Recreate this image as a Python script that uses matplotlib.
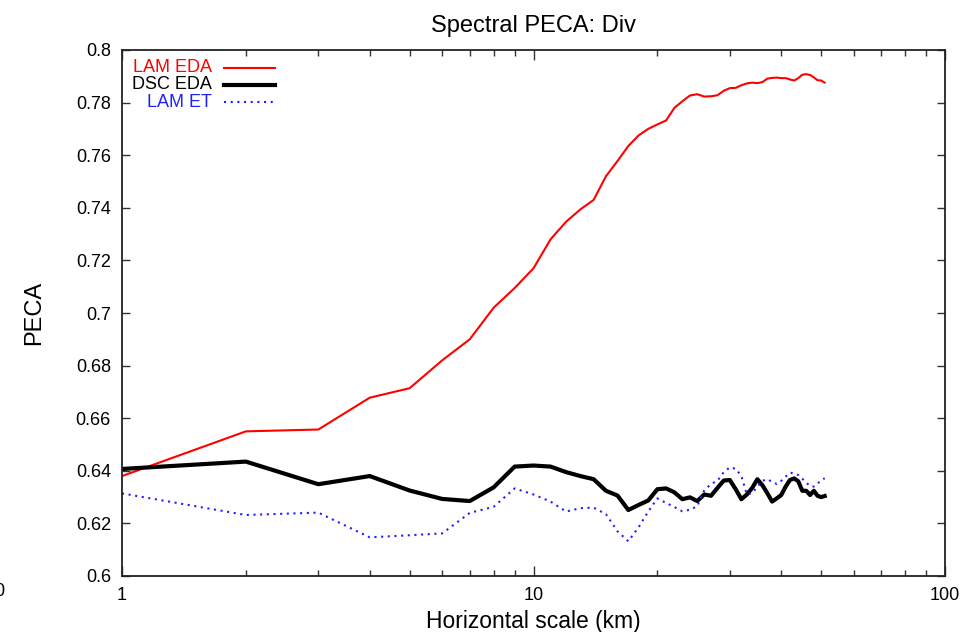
import matplotlib
matplotlib.use("Agg")
import matplotlib.pyplot as plt
from matplotlib.ticker import FuncFormatter, FixedLocator, LogLocator, NullFormatter

plt.rcParams['font.family'] = ['Liberation Sans', 'DejaVu Sans']

# horizontal scale (km)
scales = list(range(1, 52))

lam_eda = [0.638, 0.655, 0.6557, 0.6678, 0.6714, 0.682, 0.690, 0.702, 0.7095, 0.717,
           0.728, 0.7347, 0.7394, 0.743, 0.752, 0.7578, 0.7635, 0.7675, 0.770, 0.7717,
           0.7732, 0.778, 0.7805, 0.7827, 0.7832, 0.7823, 0.7824, 0.7828, 0.7845, 0.7855,
           0.7856, 0.7866, 0.7873, 0.7876, 0.7874, 0.7878, 0.7891, 0.7894, 0.7895, 0.7893,
           0.7893, 0.7888, 0.7884, 0.7893, 0.7906, 0.7908, 0.7905, 0.7896, 0.7885, 0.7884,
           0.7876]

dsc_eda = [0.6407, 0.6435, 0.6349, 0.6380, 0.6325, 0.6293, 0.6285, 0.6337, 0.6416, 0.6420,
           0.6416, 0.6395, 0.6380, 0.6368, 0.6324, 0.6306, 0.6251, 0.6270, 0.6287, 0.6330,
           0.6333, 0.6318, 0.6292, 0.6299, 0.6285, 0.6310, 0.6305, 0.6335, 0.6363, 0.6365,
           0.6330, 0.6292, 0.6310, 0.6335, 0.6368, 0.6345, 0.6315, 0.6283, 0.6295, 0.6308,
           0.6340, 0.6365, 0.6371, 0.6360, 0.6324, 0.6324, 0.6308, 0.6324, 0.6305, 0.6300,
           0.6304]

lam_et = [0.6314, 0.6232, 0.6241, 0.6147, 0.6155, 0.6162, 0.6240, 0.6263, 0.6333, 0.6310,
          0.6283, 0.6245, 0.6258, 0.6260, 0.6235, 0.6170, 0.6132, 0.6185, 0.6245, 0.6295,
          0.6278, 0.6262, 0.6246, 0.6252, 0.6265, 0.6325, 0.6350, 0.6362, 0.6395, 0.6413,
          0.6408, 0.6380, 0.6310, 0.6315, 0.6340, 0.6362, 0.6368, 0.6358, 0.6350, 0.6362,
          0.6378, 0.6393, 0.6390, 0.6384, 0.6370, 0.6355, 0.6342, 0.6340, 0.6352, 0.6362,
          0.6372]

yticks = [0.6, 0.62, 0.64, 0.66, 0.68, 0.7, 0.72, 0.74, 0.76, 0.78, 0.8]
xticks = [1, 10, 100]

fig = plt.figure(figsize=(9.63, 6.32), dpi=100)
ax = fig.add_axes([122 / 963, 1 - 576 / 632, 823 / 963, 526 / 632])

series = [
    ("LAM EDA", lam_eda, dict(color="#ff0000", lw=1.5, ls="-")),
    ("DSC EDA", dsc_eda, dict(color="black", lw=3.0, ls="-")),
    ("LAM ET", lam_et, dict(color="#2020ff", lw=1.5, ls=(0, (1, 2.2)))),
]

for label, vals, st in series:
    ax.plot(scales, vals, **st)

ax.set_xscale("log")
ax.set_xlim(1, 100)
ax.set_ylim(0.6, 0.8)

ax.xaxis.set_major_locator(FixedLocator(xticks))
ax.xaxis.set_minor_locator(LogLocator(base=10, subs=range(2, 10)))
ax.xaxis.set_minor_formatter(NullFormatter())
ax.xaxis.set_major_formatter(FuncFormatter(lambda v, p: "%g" % v))
ax.yaxis.set_major_locator(FixedLocator(yticks))
ax.yaxis.set_major_formatter(FuncFormatter(lambda v, p: "%g" % round(v, 2)))

ax.tick_params(which="both", direction="in", top=True, right=True,
               labelsize=13, color="#333333", width=1.0)
ax.tick_params(axis="y", which="major", length=6, pad=8)
ax.tick_params(axis="x", which="major", length=7, pad=8)
ax.tick_params(axis="x", which="minor", length=4)
for sp in ax.spines.values():
    sp.set_linewidth(1.3)
    sp.set_color("#222222")

ax.set_title("Spectral PECA: Div", fontsize=17, pad=13)
ax.set_xlabel("Horizontal scale (km)", fontsize=16.5, labelpad=4)
ax.set_ylabel("PECA", fontsize=17, labelpad=22)

# key, gnuplot style: right aligned text, sample line on the right
row_y = [0.966, 0.934, 0.901]
for (label, vals, st), yy in zip(series, row_y):
    ax.text(0.109, yy, label, transform=ax.transAxes, ha="right", va="center",
            color=st["color"], fontsize=13)
    ax.plot([0.124, 0.186], [yy, yy], transform=ax.transAxes, **st)

fig.text(-0.006, 1 - 592 / 632, "0", ha="left", va="center", fontsize=13)

fig.savefig("out.png", dpi=100)
